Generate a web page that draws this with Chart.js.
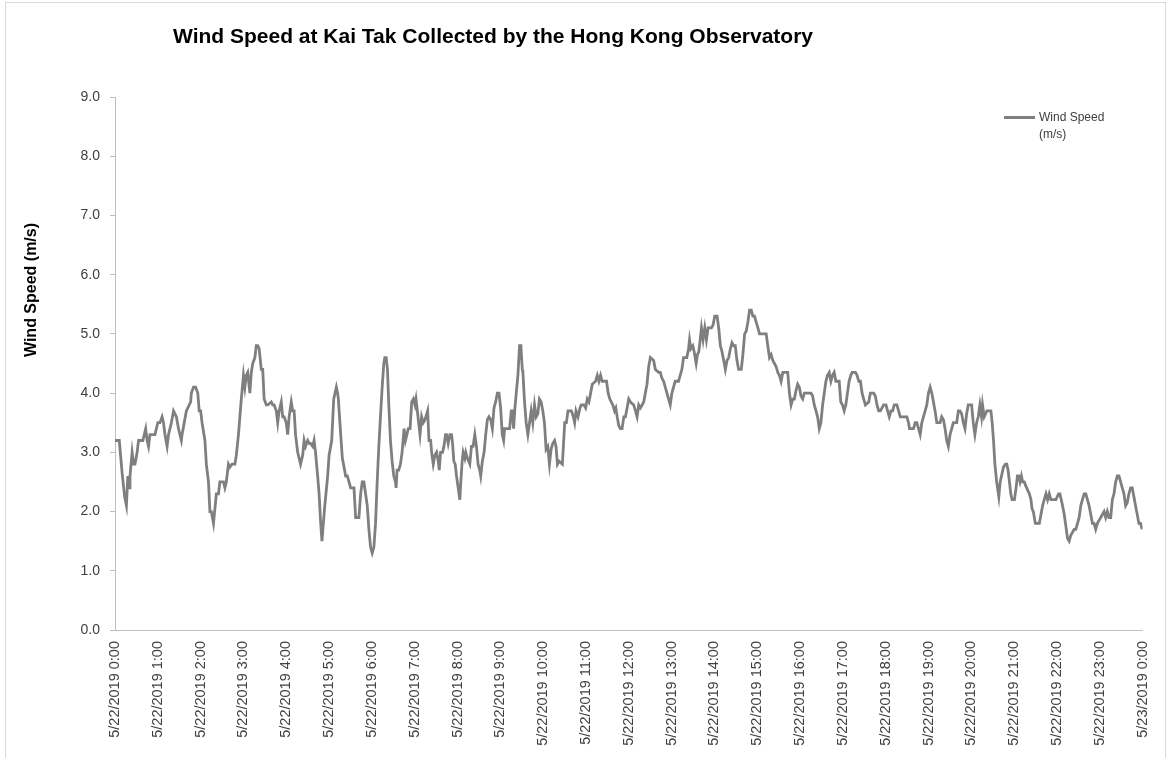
<!DOCTYPE html>
<html>
<head>
<meta charset="utf-8">
<title>Wind Speed at Kai Tak</title>
<script src="https://cdn.jsdelivr.net/npm/chart.js@4.4.1/dist/chart.umd.min.js"></script>
<style>
  html, body { margin: 0; padding: 0; background: #fff; }
  #wrap { position: relative; width: 1171px; height: 758px; overflow: hidden; font-family: "Liberation Sans", Arial, sans-serif; }
  #frame { position: absolute; left: 5px; top: 2px; width: 1161px; height: 800px; border: 1px solid #d9d9d9; box-sizing: border-box; }
  #box { position: absolute; left: 0; top: 0; width: 1171px; height: 758px; }
  #title { position: absolute; left: 173px; top: 25px; font-size: 21px; line-height: 21px; font-weight: bold; color: #000; white-space: nowrap; }
  #ytitle { position: absolute; left: -69px; top: 280px; width: 200px; height: 20px; line-height: 20px; text-align: center;
            font-size: 16px; font-weight: bold; color: #000; transform: rotate(-90deg); white-space: nowrap; }
  #swatch { position: absolute; left: 1004px; top: 116px; width: 31px; height: 3px; background: #7f7f7f; }
  #ltext { position: absolute; left: 1039px; top: 109px; font-size: 12px; line-height: 17px; color: #404040; }
</style>
</head>
<body>
<div id="wrap">
  <div id="frame"></div>
  <div id="box"><canvas id="chart"></canvas></div>
  <div id="title">Wind Speed at Kai Tak Collected by the Hong Kong Observatory</div>
  <div id="ytitle">Wind Speed (m/s)</div>
  <div id="swatch"></div>
  <div id="ltext">Wind Speed<br>(m/s)</div>
</div>
<script>
// minutes after 5/22/2019 0:00
const times = [
  0, 6, 10, 13.5, 16, 18, 20, 21, 24, 26, 28, 31, 33, 39, 43, 45, 47, 49, 56, 60,
  63, 66, 68, 70, 73, 75, 79, 82, 86, 89, 91, 93, 94, 97, 100, 106, 107, 110, 113, 116,
  118, 120, 122, 126, 128, 131, 133, 135, 138, 140, 142, 145, 147, 152, 154, 156, 159, 161, 164, 168,
  170, 173, 175, 177, 180, 182, 184, 186, 189, 191, 193, 196, 198, 200, 202,
  205, 207, 209, 212, 214, 219, 221, 223, 226, 228, 230, 233, 235, 237, 240, 242, 244, 247, 249, 251,
  253, 256, 258, 260, 263, 265, 267, 270, 272, 274, 277, 279, 281, 284, 286, 288, 290, 292, 294, 298,
  300, 303.7, 306.5, 308.4, 310.2, 312, 313, 316.3, 318.6, 321, 323.2, 325.6, 327.9, 330.2, 334.9, 337.2, 341.8, 344.2, 346.5, 348.8,
  351.1, 353.5, 355.8, 358.1, 360.4, 362.8, 365.1, 367.4, 369.7, 372, 374.4, 376.7, 378.1, 380, 381.8, 383.7, 386, 388.3, 390.7, 393,
  393.9, 395.3, 397.6, 400, 402.3, 403.7, 405.1, 407,
  409, 411, 413.5, 415.8, 418.1, 420.4, 421.8, 423.7, 425.5, 427.4, 429.7, 432, 434.4, 438.1, 440, 442.3, 443.7, 446, 448.3, 450.7,
  453, 454.4, 456.2, 459, 460.9, 463.2, 464.6, 466.9, 469.3, 471.6, 473, 474.8, 476.7, 478.6, 480.9, 483.2, 484.6, 486.5, 487.9, 490.2,
  491.6, 493.9, 497.2, 499.5, 501.8, 504.2, 506.5, 508.8, 511.1, 512.5, 514.8, 517.2, 519.5, 521.8, 524.1, 526.5, 528.8, 531.1, 533.4, 535.8,
  538.1, 540.4, 542.7, 544.6, 546, 553, 555.3, 556.7, 558.6, 560.4, 562.3, 564.6, 566.9, 568.8, 570.7, 571.6, 573.9, 576.2, 578.6, 580.9,
  583.2, 585.5, 587.9, 590.2, 592.5, 594.8, 597.2, 599.5, 601.8, 604.1, 606.5, 608.8, 611.1, 613.4, 616, 618,
  620, 622.3, 626.9, 628.3, 630.2, 632.5, 634.8, 639.5, 642.3, 644.1, 646, 648.8, 651.6, 653.4, 657.2, 659.5, 661.8, 664.1, 666.5, 668.8,
  673.4, 675.8, 678.1, 680.4, 682.7, 688.8, 691.1, 693.4, 697.6, 700, 701.8, 703.7, 706, 708.3, 710.6, 713, 715.3, 717.6, 719.9, 722.3,
  726.9, 729.3, 731.6, 733.9, 736.2, 738.6, 740.9, 743.2, 745.5, 747.9, 750.2, 754.8, 757.2, 761.8, 764.1, 766.5, 768.8, 771.1, 773.4, 775.8,
  778.1, 780.4, 782.7, 785.1, 789.7, 792, 794.4, 796.7, 801.3, 803.7, 805.1, 806.9, 809.7, 811.6, 814.4, 816.2, 818.1, 820, 821.8,
  824.1, 826.5, 828.8, 831.1, 835.8, 838.1, 840.4, 843.7, 846, 848.3, 850.6, 853, 855.3, 857.6, 860, 862.3, 864.6, 866.9, 869.2, 871.6,
  873.9, 877.6, 879.9, 882.3, 884.6, 886.9, 889.2, 891.6, 893.9, 896.2, 898.5, 900.9, 903.2, 912.5, 914.8, 917.1, 919.5, 921.8, 924.1, 926.4,
  928.8, 931.1, 933.4, 935.8, 942.7, 945.1, 947.4, 949.7, 952, 954.4, 956.7, 959, 961.3, 963.7, 966, 975.3, 977.6, 979.9, 982.3, 984.6,
  986.9, 989.2, 991.6, 993.9, 996.2, 998.5, 1000.9, 1003.2, 1005.5, 1007.8, 1010.2, 1014.8, 1017.1, 1019.5, 1021.8, 1024.1, 1026.4, 1028.7,
  1031.1, 1033, 1037.6, 1039.9, 1042.3, 1044.6, 1046.9, 1049.2, 1051.6, 1056.2, 1058.5, 1063.2, 1065.5, 1067.8, 1070.2, 1072.5, 1077.1, 1080.4, 1082.7, 1085,
  1087.4, 1089.7, 1092, 1095.7, 1098.1, 1100.4, 1109.7, 1112, 1113.4, 1119, 1121.3, 1123.6, 1126, 1128.3, 1130.6, 1132.9, 1135.3, 1137.6, 1139.9, 1142.3,
  1144.6, 1146.9, 1149.2, 1151.6, 1156.2, 1158.5, 1160.9, 1163.2, 1165.5, 1167.8, 1170.2, 1172.5, 1174.8, 1179.5, 1181.8, 1184.1, 1186.4, 1188.8, 1191.1, 1193.4,
  1195.7, 1200.4, 1202.7, 1205, 1207.4, 1209.7, 1212, 1214.3, 1215.7, 1218, 1219.9, 1221.8, 1227.4, 1229.2, 1231.1, 1233,
  1235.5, 1238.5, 1240.4, 1243.2, 1245, 1247.8, 1249.7, 1251.5, 1253.4, 1255.3, 1257.1, 1260.4, 1262.7, 1264.6, 1266.4, 1268.3, 1270.2, 1272, 1274.3, 1275.7,
  1277.6, 1279.4, 1281.3, 1283.6, 1285, 1286.9, 1289.7, 1295.3, 1297.6, 1299.9, 1302.2, 1304.6, 1306.9, 1309.2, 1311.5, 1318.5, 1322.2, 1324.1, 1326, 1327.8,
  1330.2, 1332.5, 1334.8, 1337.1, 1339.4, 1341.8, 1344.1, 1346.4, 1348.8, 1351.1, 1353.4, 1355.7, 1358.1, 1360.4, 1362.7, 1365, 1367.4, 1369.7, 1372, 1374.3,
  1376.7, 1379, 1381.3, 1383.6, 1386, 1388.3, 1390.6, 1392.9, 1395.3, 1397.6, 1399.9, 1402.2, 1404.6, 1406.9, 1409.2, 1411.5, 1413.9, 1416.2, 1418.5, 1420.8,
  1423.2, 1425.5, 1427.8, 1430.1, 1432.5, 1434.8, 1437.1, 1439.4, 1440
];

// wind speed (m/s) at each time above
const speeds = [
  3.2, 3.2, 2.65, 2.25, 2.1, 2.6, 2.4, 2.6, 3.0, 2.8, 2.8, 3.0, 3.2, 3.2, 3.4, 3.2, 3.1, 3.3, 3.3, 3.5,
  3.5, 3.6, 3.5, 3.3, 3.1, 3.3, 3.5, 3.7, 3.6, 3.4, 3.3, 3.2, 3.3, 3.5, 3.7, 3.85, 4.0, 4.1, 4.1, 4.0,
  3.7, 3.7, 3.5, 3.2, 2.8, 2.5, 2.0, 2.0, 1.8, 2.05, 2.3, 2.3, 2.5, 2.5, 2.4, 2.5, 2.8, 2.75, 2.8, 2.8,
  2.95, 3.3, 3.6, 3.9, 4.3, 4.1, 4.3, 4.35, 4.0, 4.35, 4.5, 4.6, 4.8, 4.8, 4.75,
  4.4, 4.4, 3.9, 3.8, 3.8, 3.85, 3.8, 3.8, 3.7, 3.5, 3.7, 3.85, 3.6, 3.6, 3.5, 3.3, 3.6, 3.85, 3.7, 3.7,
  3.3, 3.0, 2.9, 2.8, 2.95, 3.2, 3.1, 3.2, 3.15, 3.15, 3.1, 3.2, 3.0, 2.6, 2.3, 1.85, 1.5, 1.8, 2.1, 2.6,
  2.95, 3.2, 3.9, 4.0, 4.1, 4.0, 3.9, 3.3, 2.9, 2.75, 2.6, 2.6, 2.5, 2.4, 2.4, 1.9, 1.9, 2.3, 2.5, 2.5,
  2.3, 2.1, 1.7, 1.4, 1.3, 1.4, 1.8, 2.5, 3.1, 3.6, 4.1, 4.5, 4.6, 4.6, 4.4, 3.8, 3.2, 2.85, 2.6, 2.5,
  2.4, 2.7, 2.7, 2.8, 3.0, 3.2, 3.4, 3.2,
  3.3, 3.4, 3.4, 3.85, 3.9, 3.8, 3.9, 3.7, 3.5, 3.3, 3.6, 3.5, 3.55, 3.7, 3.2, 3.2, 3.0, 2.8, 2.95, 3.0,
  2.85, 2.7, 3.0, 3.0, 3.1, 3.3, 3.3, 3.15, 3.3, 3.3, 3.15, 2.85, 2.8, 2.6, 2.4, 2.2, 2.5, 2.85, 3.0, 2.9,
  3.0, 2.9, 2.8, 3.1, 3.1, 3.3, 3.1, 2.8, 2.7, 2.6, 2.85, 3.0, 3.3, 3.55, 3.6, 3.55, 3.4, 3.75, 3.85, 4.0,
  4.0, 3.75, 3.3, 3.2, 3.4, 3.4, 3.7, 3.7, 3.4, 3.75, 4.0, 4.3, 4.8, 4.8, 4.4, 4.35, 3.85, 3.5, 3.3, 3.5,
  3.7, 3.5, 3.8, 3.6, 3.65, 3.9, 3.85, 3.7, 3.5, 3.05, 3.1, 2.8, 3.05, 3.15, 3.2, 3.1,
  2.8, 2.85, 2.8, 3.1, 3.5, 3.5, 3.7, 3.7, 3.6, 3.5, 3.7, 3.6, 3.75, 3.8, 3.8, 3.75, 3.9, 3.85, 4.0, 4.15,
  4.2, 4.3, 4.2, 4.3, 4.2, 4.2, 4.0, 3.9, 3.8, 3.7, 3.75, 3.6, 3.45, 3.4, 3.4, 3.6, 3.6, 3.75, 3.9, 3.85,
  3.8, 3.7, 3.6, 3.8, 3.75, 3.8, 3.85, 4.0, 4.15, 4.45, 4.6, 4.55, 4.4, 4.35, 4.35, 4.25, 4.2, 4.1, 4.0, 3.9,
  3.8, 4.0, 4.1, 4.2, 4.2, 4.3, 4.4, 4.6, 4.6, 4.75, 4.9, 4.75, 4.8, 4.7, 4.5, 4.65, 4.7, 4.9, 5.1,
  4.9, 5.1, 4.9, 5.1, 5.1, 5.15, 5.3, 5.3, 5.1, 4.8, 4.7, 4.55, 4.4, 4.55, 4.6, 4.75, 4.85, 4.8, 4.8, 4.55,
  4.4, 4.4, 4.65, 5.0, 5.05, 5.2, 5.4, 5.4, 5.3, 5.3, 5.2, 5.1, 5.0, 5.0, 4.8, 4.6, 4.65, 4.55, 4.5, 4.45,
  4.35, 4.3, 4.2, 4.35, 4.35, 4.0, 3.8, 3.9, 3.9, 4.05, 4.15, 4.1, 3.95, 3.9, 4.0, 4.0, 3.95, 3.8, 3.7, 3.6,
  3.4, 3.5, 3.8, 4.0, 4.2, 4.3, 4.35, 4.2, 4.3, 4.35, 4.2, 4.2, 3.85, 3.8, 3.7, 3.8, 4.0, 4.2,
  4.3, 4.35, 4.35, 4.3, 4.2, 4.2, 4.0, 3.9, 3.8, 3.85, 4.0, 4.0, 3.95, 3.8, 3.7, 3.7, 3.8, 3.8, 3.7, 3.6,
  3.7, 3.7, 3.8, 3.8, 3.7, 3.6, 3.6, 3.5, 3.4, 3.4, 3.5, 3.5, 3.4, 3.3, 3.5, 3.6, 3.7, 3.8, 4.0, 4.1,
  4.0, 3.85, 3.7, 3.5, 3.5, 3.6, 3.55, 3.4, 3.2, 3.1, 3.3, 3.4, 3.5, 3.5, 3.7, 3.7, 3.65, 3.5, 3.4, 3.65,
  3.8, 3.8, 3.5, 3.3, 3.5, 3.6, 3.8, 3.6, 3.8, 3.6, 3.65, 3.7, 3.7, 3.5, 3.2, 2.8,
  2.5, 2.25, 2.5, 2.65, 2.75, 2.8, 2.8, 2.7, 2.5, 2.3, 2.2, 2.2, 2.4, 2.6, 2.6, 2.5, 2.6, 2.5, 2.5, 2.45,
  2.4, 2.35, 2.3, 2.2, 2.05, 2.0, 1.8, 1.8, 1.95, 2.1, 2.2, 2.3, 2.2, 2.3, 2.2, 2.2, 2.3, 2.3, 2.2, 2.1,
  1.95, 1.75, 1.55, 1.5, 1.6, 1.65, 1.7, 1.7, 1.8, 1.9, 2.1, 2.2, 2.3, 2.3, 2.2, 2.1, 1.95, 1.8, 1.8, 1.7,
  1.8, 1.85, 1.9, 1.95, 2.0, 1.9, 2.0, 1.9, 1.9, 2.2, 2.3, 2.5, 2.6, 2.6, 2.5, 2.4, 2.3, 2.1, 2.15, 2.3,
  2.4, 2.4, 2.25, 2.1, 1.95, 1.8, 1.8, 1.7, 1.7
];

const tickLabels = [
  '5/22/2019 0:00', '5/22/2019 1:00', '5/22/2019 2:00', '5/22/2019 3:00', '5/22/2019 4:00',
  '5/22/2019 5:00', '5/22/2019 6:00', '5/22/2019 7:00', '5/22/2019 8:00', '5/22/2019 9:00',
  '5/22/2019 10:00', '5/22/2019 11:00', '5/22/2019 12:00', '5/22/2019 13:00', '5/22/2019 14:00',
  '5/22/2019 15:00', '5/22/2019 16:00', '5/22/2019 17:00', '5/22/2019 18:00', '5/22/2019 19:00',
  '5/22/2019 20:00', '5/22/2019 21:00', '5/22/2019 22:00', '5/22/2019 23:00', '5/23/2019 0:00'
];

const points = times.map((t, i) => ({ x: t, y: speeds[i] }));

new Chart(document.getElementById('chart'), {
  type: 'line',
  data: {
    datasets: [{
      label: 'Wind Speed (m/s)',
      data: points,
      borderColor: '#7f7f7f',
      borderWidth: 2.8,
      pointRadius: 0,
      tension: 0,
      fill: false
    }]
  },
  options: {
    responsive: true,
    maintainAspectRatio: false,
    animation: false,
    layout: { padding: { top: 97, right: 23, bottom: 0, left: 0 } },
    plugins: {
      legend: { display: false },
      title: { display: false },
      tooltip: { enabled: false }
    },
    scales: {
      x: {
        type: 'linear',
        min: 0,
        max: 1440,
        afterFit: (scale) => { scale.height = 128; },
        grid: { display: false, drawTicks: false },
        border: { display: true, color: '#bfbfbf', width: 1 },
        ticks: {
          stepSize: 60,
          autoSkip: false,
          minRotation: 90,
          maxRotation: 90,
          padding: 11,
          color: '#404040',
          font: { family: 'Liberation Sans', size: 14.5 },
          callback: (v) => tickLabels[Math.round(v / 60)]
        }
      },
      y: {
        min: 0,
        max: 9,
        afterFit: (scale) => { scale.width = 115; },
        grid: { drawOnChartArea: false, drawTicks: true, tickLength: 5, color: '#bfbfbf' },
        border: { color: '#bfbfbf', width: 1 },
        ticks: {
          stepSize: 1,
          padding: 10,
          color: '#404040',
          font: { family: 'Liberation Sans', size: 14 },
          callback: (v) => v.toFixed(1)
        }
      }
    }
  }
});
</script>
</body>
</html>
